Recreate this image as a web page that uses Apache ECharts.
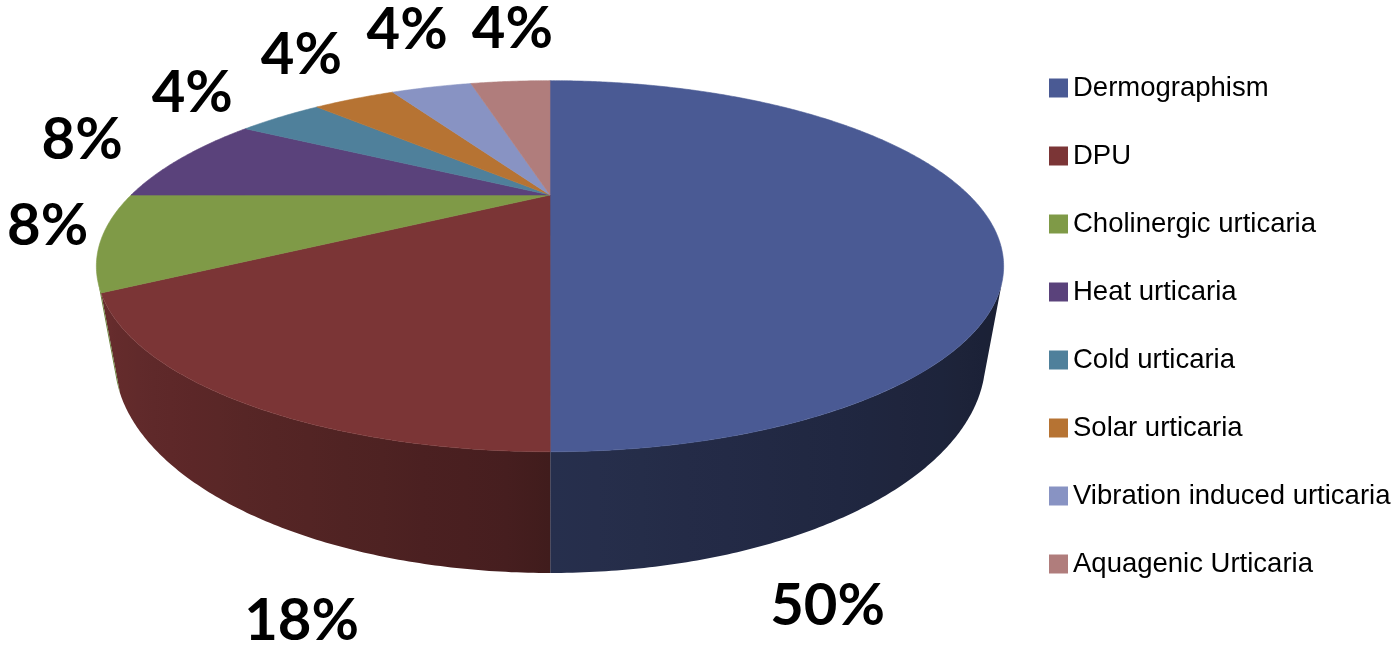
<!DOCTYPE html>
<html><head><meta charset="utf-8">
<script src="https://cdn.jsdelivr.net/npm/echarts@6/dist/echarts.min.js"></script>
<style>html,body{margin:0;padding:0;background:#fff}#chart{width:1400px;height:651px}</style>
</head><body><div id="chart"></div>
<script>
// ---- data ----
const categories = ['Dermographism', 'DPU', 'Cholinergic urticaria', 'Heat urticaria', 'Cold urticaria', 'Solar urticaria', 'Vibration induced urticaria', 'Aquagenic Urticaria'];
const values = [50, 16.67, 8.33, 8.33, 4.17, 4.17, 4.17, 4.17];
const percentLabels = ['50%', '18%', '8%', '8%', '4%', '4%', '4%', '4%'];

// ---- styles / layout ----
const colors = ['#4A5A94', '#7B3536', '#7F9A47', '#5A427B', '#4F809B', '#B67333', '#8893C3', '#B07D7C'];
// label anchor on the pie's top plane: [angle deg clockwise from 12 o'clock, radius factor]
const labelPolar = [[165.7, 1.343], [192.4, 1.357], [260.7, 1.13], [287.3, 1.35], [307.0, 1.42], [326.1, 1.61], [341.9, 1.83], [355.1, 1.76]];
const cam = { ox: 550, oy: 195, f: 1010.6, D: 1, R: 0.4145, H: 0.0942, sinB: 0.3777, cosB: 0.9259 };

const total = values.reduce((a, b) => a + b, 0);
const cum = [];
values.reduce((acc, v, i) => { cum[i] = acc; return acc + v; }, 0);

function project(theta, r, h) {
  const u = r * cam.R * Math.sin(theta), v = r * cam.R * Math.cos(theta);
  const X = u;
  const Y = -v * cam.sinB - h * cam.cosB;
  const Z = cam.D + v * cam.cosB - h * cam.sinB;
  return [cam.ox + cam.f * X / Z, cam.oy + cam.f * Y / Z];
}
function hexToRgb(h) { const n = parseInt(h.slice(1), 16); return [(n >> 16) & 255, (n >> 8) & 255, n & 255]; }
function shadeFactor(t) { const s = Math.sin(t); return s > 0 ? 0.52 - 0.18 * s : 0.55 - 0.32 * s; }
function shade(hex, k) { const c = hexToRgb(hex); return 'rgb(' + c.map(x => Math.round(x * k)).join(',') + ')'; }

const visA = Math.acos(-cam.R / cam.cosB);
const vis0 = visA - 0.005, vis1 = 2 * Math.PI - visA;
const DEG = Math.PI / 180;

function makeRender(i) {
  return function (params, api) {
    const val = api.value(0);
    const start = cum[i] / total * 2 * Math.PI;
    const end = (cum[i] + val) / total * 2 * Math.PI;
    const color = colors[i];
    const children = [];
    // top face
    const n = Math.max(2, Math.ceil((end - start) / (0.5 * DEG)));
    const top = [project(0, 0, 0)];
    for (let k = 0; k <= n; k++) top.push(project(start + (end - start) * k / n, 1, 0));
    children.push({ type: 'polygon', shape: { points: top }, style: { fill: color, stroke: color, lineWidth: 0.6 }, z2: 10 });
    // visible outer wall
    const a0 = Math.max(start, vis0), a1 = Math.min(end, vis1);
    if (a1 > a0) {
      const m = Math.max(2, Math.ceil((a1 - a0) / (0.5 * DEG)));
      const up = [], dn = [];
      for (let k = 0; k <= m; k++) {
        const t = a0 + (a1 - a0) * k / m;
        up.push(project(t, 1, 0));
        dn.push(project(t, 1, -cam.H));
      }
      const pts = up.concat(dn.reverse());
      const xs = pts.map(p => p[0]);
      const xmin = Math.min(...xs), xmax = Math.max(...xs);
      const stops = [];
      const S = 16;
      for (let k = 0; k <= S; k++) {
        const t = a0 + (a1 - a0) * k / S;
        const px = (project(t, 1, 0)[0] + project(t, 1, -cam.H)[0]) / 2;
        stops.push({ offset: Math.min(1, Math.max(0, (px - xmin) / (xmax - xmin))), color: shade(color, shadeFactor(t)) });
      }
      stops.sort((p, q) => p.offset - q.offset);
      const grad = new echarts.graphic.LinearGradient(xmin, 0, xmax, 0, stops, true);
      children.push({ type: 'polygon', shape: { points: pts }, style: { fill: grad }, z2: 1 });
    }
    // label
    const lp = project(labelPolar[i][0] * DEG, labelPolar[i][1], 0);
    children.push({
      type: 'text', x: lp[0], y: lp[1], z2: 20,
      style: { text: percentLabels[i], fill: '#000', font: 'bold 58px Lato', align: 'center', verticalAlign: 'middle' }
    });
    return { type: 'group', children };
  };
}

const chart = echarts.init(document.getElementById('chart'), null, { renderer: 'canvas' });
chart.setOption({
  animation: false,
  backgroundColor: '#ffffff',
  legend: {
    orient: 'vertical', left: 1044, top: 69,
    itemWidth: 19, itemHeight: 19, itemGap: 40, icon: 'rect', selectedMode: false,
    textStyle: { fontFamily: 'Liberation Sans', fontSize: 27.5, color: '#000', lineHeight: 28 },
    data: categories
  },
  series: categories.map((name, i) => ({
    type: 'custom', name, coordinateSystem: 'none',
    itemStyle: { color: colors[i] },
    data: [[values[i]]],
    renderItem: makeRender(i)
  }))
});
</script>
</body></html>
